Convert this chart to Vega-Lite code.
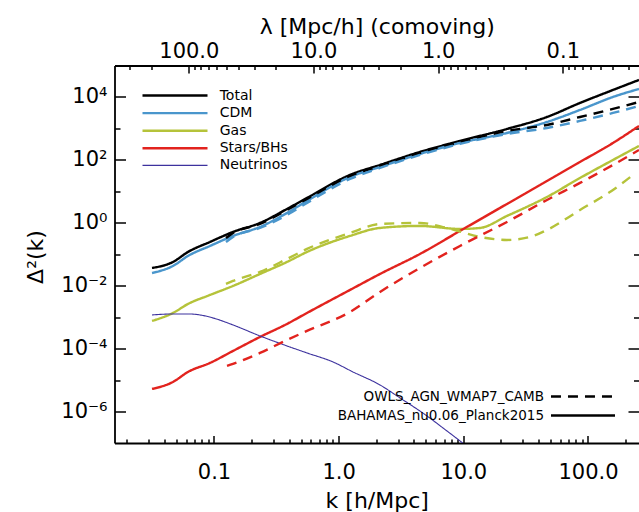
{
"$schema": "https://vega.github.io/schema/vega-lite/v6.json",
"width": 524.5, "height": 377.5,
"autosize": {"type": "none"},
"padding": {"left": 114.5, "top": 65.5, "right": 0, "bottom": 69},
"background": "white",
"config": {"view": {"stroke": null}, "font": "DejaVu Sans"},
"data": {"values": [
{"k":0.03183,"v":0.0367,"c":"Total","m":"BAHAMAS_nu0.06_Planck2015"},
{"k":0.0469,"v":0.0569,"c":"Total","m":"BAHAMAS_nu0.06_Planck2015"},
{"k":0.06184,"v":0.1183,"c":"Total","m":"BAHAMAS_nu0.06_Planck2015"},
{"k":0.09288,"v":0.246,"c":"Total","m":"BAHAMAS_nu0.06_Planck2015"},
{"k":0.1421,"v":0.512,"c":"Total","m":"BAHAMAS_nu0.06_Planck2015"},
{"k":0.2339,"v":0.988,"c":"Total","m":"BAHAMAS_nu0.06_Planck2015"},
{"k":0.385,"v":2.75,"c":"Total","m":"BAHAMAS_nu0.06_Planck2015"},
{"k":0.5572,"v":6.16,"c":"Total","m":"BAHAMAS_nu0.06_Planck2015"},
{"k":1.233,"v":33.2,"c":"Total","m":"BAHAMAS_nu0.06_Planck2015"},
{"k":2.146,"v":68.96,"c":"Total","m":"BAHAMAS_nu0.06_Planck2015"},
{"k":4.49,"v":178.6,"c":"Total","m":"BAHAMAS_nu0.06_Planck2015"},
{"k":9.4,"v":399,"c":"Total","m":"BAHAMAS_nu0.06_Planck2015"},
{"k":22.4,"v":961,"c":"Total","m":"BAHAMAS_nu0.06_Planck2015"},
{"k":46.9,"v":2313,"c":"Total","m":"BAHAMAS_nu0.06_Planck2015"},
{"k":86.3,"v":6448,"c":"Total","m":"BAHAMAS_nu0.06_Planck2015"},
{"k":158.7,"v":16690,"c":"Total","m":"BAHAMAS_nu0.06_Planck2015"},
{"k":256.45,"v":34710,"c":"Total","m":"BAHAMAS_nu0.06_Planck2015"},
{"k":0.03183,"v":0.0254,"c":"CDM","m":"BAHAMAS_nu0.06_Planck2015"},
{"k":0.0469,"v":0.0425,"c":"CDM","m":"BAHAMAS_nu0.06_Planck2015"},
{"k":0.06184,"v":0.0883,"c":"CDM","m":"BAHAMAS_nu0.06_Planck2015"},
{"k":0.09288,"v":0.1836,"c":"CDM","m":"BAHAMAS_nu0.06_Planck2015"},
{"k":0.1421,"v":0.382,"c":"CDM","m":"BAHAMAS_nu0.06_Planck2015"},
{"k":0.2339,"v":0.738,"c":"CDM","m":"BAHAMAS_nu0.06_Planck2015"},
{"k":0.385,"v":2.055,"c":"CDM","m":"BAHAMAS_nu0.06_Planck2015"},
{"k":0.5572,"v":4.95,"c":"CDM","m":"BAHAMAS_nu0.06_Planck2015"},
{"k":1.233,"v":28.6,"c":"CDM","m":"BAHAMAS_nu0.06_Planck2015"},
{"k":2.146,"v":59.6,"c":"CDM","m":"BAHAMAS_nu0.06_Planck2015"},
{"k":4.49,"v":154.3,"c":"CDM","m":"BAHAMAS_nu0.06_Planck2015"},
{"k":9.4,"v":345,"c":"CDM","m":"BAHAMAS_nu0.06_Planck2015"},
{"k":22.4,"v":717,"c":"CDM","m":"BAHAMAS_nu0.06_Planck2015"},
{"k":46.9,"v":1604,"c":"CDM","m":"BAHAMAS_nu0.06_Planck2015"},
{"k":86.3,"v":3862,"c":"CDM","m":"BAHAMAS_nu0.06_Planck2015"},
{"k":158.7,"v":10000,"c":"CDM","m":"BAHAMAS_nu0.06_Planck2015"},
{"k":256.45,"v":17966,"c":"CDM","m":"BAHAMAS_nu0.06_Planck2015"},
{"k":0.03183,"v":0.000758,"c":"Gas","m":"BAHAMAS_nu0.06_Planck2015"},
{"k":0.0469,"v":0.001362,"c":"Gas","m":"BAHAMAS_nu0.06_Planck2015"},
{"k":0.06184,"v":0.00263,"c":"Gas","m":"BAHAMAS_nu0.06_Planck2015"},
{"k":0.09288,"v":0.00508,"c":"Gas","m":"BAHAMAS_nu0.06_Planck2015"},
{"k":0.1421,"v":0.00983,"c":"Gas","m":"BAHAMAS_nu0.06_Planck2015"},
{"k":0.2339,"v":0.0236,"c":"Gas","m":"BAHAMAS_nu0.06_Planck2015"},
{"k":0.385,"v":0.0569,"c":"Gas","m":"BAHAMAS_nu0.06_Planck2015"},
{"k":0.5572,"v":0.1183,"c":"Gas","m":"BAHAMAS_nu0.06_Planck2015"},
{"k":1.233,"v":0.382,"c":"Gas","m":"BAHAMAS_nu0.06_Planck2015"},
{"k":2.146,"v":0.686,"c":"Gas","m":"BAHAMAS_nu0.06_Planck2015"},
{"k":4.49,"v":0.793,"c":"Gas","m":"BAHAMAS_nu0.06_Planck2015"},
{"k":9.4,"v":0.637,"c":"Gas","m":"BAHAMAS_nu0.06_Planck2015"},
{"k":13.6,"v":0.686,"c":"Gas","m":"BAHAMAS_nu0.06_Planck2015"},
{"k":22.4,"v":1.65,"c":"Gas","m":"BAHAMAS_nu0.06_Planck2015"},
{"k":46.9,"v":6.63,"c":"Gas","m":"BAHAMAS_nu0.06_Planck2015"},
{"k":86.3,"v":26.6,"c":"Gas","m":"BAHAMAS_nu0.06_Planck2015"},
{"k":158.7,"v":99.4,"c":"Gas","m":"BAHAMAS_nu0.06_Planck2015"},
{"k":256.45,"v":277,"c":"Gas","m":"BAHAMAS_nu0.06_Planck2015"},
{"k":0.03183,"v":5.23e-6,"c":"Stars/BHs","m":"BAHAMAS_nu0.06_Planck2015"},
{"k":0.0469,"v":8.73e-6,"c":"Stars/BHs","m":"BAHAMAS_nu0.06_Planck2015"},
{"k":0.06184,"v":1.814e-5,"c":"Stars/BHs","m":"BAHAMAS_nu0.06_Planck2015"},
{"k":0.09288,"v":3.51e-5,"c":"Stars/BHs","m":"BAHAMAS_nu0.06_Planck2015"},
{"k":0.1421,"v":8.44e-5,"c":"Stars/BHs","m":"BAHAMAS_nu0.06_Planck2015"},
{"k":0.2339,"v":0.000235,"c":"Stars/BHs","m":"BAHAMAS_nu0.06_Planck2015"},
{"k":0.385,"v":0.000609,"c":"Stars/BHs","m":"BAHAMAS_nu0.06_Planck2015"},
{"k":0.5572,"v":0.00136,"c":"Stars/BHs","m":"BAHAMAS_nu0.06_Planck2015"},
{"k":1.233,"v":0.00733,"c":"Stars/BHs","m":"BAHAMAS_nu0.06_Planck2015"},
{"k":2.146,"v":0.0236,"c":"Stars/BHs","m":"BAHAMAS_nu0.06_Planck2015"},
{"k":4.49,"v":0.1022,"c":"Stars/BHs","m":"BAHAMAS_nu0.06_Planck2015"},
{"k":9.4,"v":0.55,"c":"Stars/BHs","m":"BAHAMAS_nu0.06_Planck2015"},
{"k":22.4,"v":3.97,"c":"Stars/BHs","m":"BAHAMAS_nu0.06_Planck2015"},
{"k":46.9,"v":21.4,"c":"Stars/BHs","m":"BAHAMAS_nu0.06_Planck2015"},
{"k":86.3,"v":85.9,"c":"Stars/BHs","m":"BAHAMAS_nu0.06_Planck2015"},
{"k":158.7,"v":345,"c":"Stars/BHs","m":"BAHAMAS_nu0.06_Planck2015"},
{"k":256.45,"v":1197,"c":"Stars/BHs","m":"BAHAMAS_nu0.06_Planck2015"},
{"k":0.03183,"v":0.001177,"c":"Neutrinos","m":"BAHAMAS_nu0.06_Planck2015"},
{"k":0.0469,"v":0.001266,"c":"Neutrinos","m":"BAHAMAS_nu0.06_Planck2015"},
{"k":0.06184,"v":0.001266,"c":"Neutrinos","m":"BAHAMAS_nu0.06_Planck2015"},
{"k":0.0772,"v":0.001177,"c":"Neutrinos","m":"BAHAMAS_nu0.06_Planck2015"},
{"k":0.09817,"v":0.000944,"c":"Neutrinos","m":"BAHAMAS_nu0.06_Planck2015"},
{"k":0.1421,"v":0.000566,"c":"Neutrinos","m":"BAHAMAS_nu0.06_Planck2015"},
{"k":0.2339,"v":0.000253,"c":"Neutrinos","m":"BAHAMAS_nu0.06_Planck2015"},
{"k":0.385,"v":0.0001217,"c":"Neutrinos","m":"BAHAMAS_nu0.06_Planck2015"},
{"k":0.5572,"v":7.29e-5,"c":"Neutrinos","m":"BAHAMAS_nu0.06_Planck2015"},
{"k":0.9006,"v":3.77e-5,"c":"Neutrinos","m":"BAHAMAS_nu0.06_Planck2015"},
{"k":1.3026,"v":1.814e-5,"c":"Neutrinos","m":"BAHAMAS_nu0.06_Planck2015"},
{"k":2.146,"v":7.01e-6,"c":"Neutrinos","m":"BAHAMAS_nu0.06_Planck2015"},
{"k":3.1046,"v":2.71e-6,"c":"Neutrinos","m":"BAHAMAS_nu0.06_Planck2015"},
{"k":5.111,"v":7.25e-7,"c":"Neutrinos","m":"BAHAMAS_nu0.06_Planck2015"},
{"k":6.8675,"v":3.01e-7,"c":"Neutrinos","m":"BAHAMAS_nu0.06_Planck2015"},
{"k":9.4,"v":1.163e-7,"c":"Neutrinos","m":"BAHAMAS_nu0.06_Planck2015"},
{"k":11.31,"v":6.47e-8,"c":"Neutrinos","m":"BAHAMAS_nu0.06_Planck2015"},
{"k":0.1248,"v":0.33,"c":"Total","m":"OWLS_AGN_WMAP7_CAMB"},
{"k":0.1421,"v":0.475,"c":"Total","m":"OWLS_AGN_WMAP7_CAMB"},
{"k":0.2339,"v":0.919,"c":"Total","m":"OWLS_AGN_WMAP7_CAMB"},
{"k":0.385,"v":2.559,"c":"Total","m":"OWLS_AGN_WMAP7_CAMB"},
{"k":0.5572,"v":5.73,"c":"Total","m":"OWLS_AGN_WMAP7_CAMB"},
{"k":1.233,"v":30.8,"c":"Total","m":"OWLS_AGN_WMAP7_CAMB"},
{"k":2.146,"v":64.1,"c":"Total","m":"OWLS_AGN_WMAP7_CAMB"},
{"k":4.49,"v":166,"c":"Total","m":"OWLS_AGN_WMAP7_CAMB"},
{"k":9.4,"v":371,"c":"Total","m":"OWLS_AGN_WMAP7_CAMB"},
{"k":22.4,"v":830,"c":"Total","m":"OWLS_AGN_WMAP7_CAMB"},
{"k":46.9,"v":1288,"c":"Total","m":"OWLS_AGN_WMAP7_CAMB"},
{"k":86.3,"v":2313,"c":"Total","m":"OWLS_AGN_WMAP7_CAMB"},
{"k":158.7,"v":4155,"c":"Total","m":"OWLS_AGN_WMAP7_CAMB"},
{"k":256.45,"v":6937,"c":"Total","m":"OWLS_AGN_WMAP7_CAMB"},
{"k":0.1248,"v":0.246,"c":"CDM","m":"OWLS_AGN_WMAP7_CAMB"},
{"k":0.1421,"v":0.355,"c":"CDM","m":"OWLS_AGN_WMAP7_CAMB"},
{"k":0.2339,"v":0.686,"c":"CDM","m":"OWLS_AGN_WMAP7_CAMB"},
{"k":0.385,"v":1.775,"c":"CDM","m":"OWLS_AGN_WMAP7_CAMB"},
{"k":0.5572,"v":4.27,"c":"CDM","m":"OWLS_AGN_WMAP7_CAMB"},
{"k":1.233,"v":24.7,"c":"CDM","m":"OWLS_AGN_WMAP7_CAMB"},
{"k":2.146,"v":55.4,"c":"CDM","m":"OWLS_AGN_WMAP7_CAMB"},
{"k":4.49,"v":143.3,"c":"CDM","m":"OWLS_AGN_WMAP7_CAMB"},
{"k":9.4,"v":321,"c":"CDM","m":"OWLS_AGN_WMAP7_CAMB"},
{"k":22.4,"v":667,"c":"CDM","m":"OWLS_AGN_WMAP7_CAMB"},
{"k":46.9,"v":1034,"c":"CDM","m":"OWLS_AGN_WMAP7_CAMB"},
{"k":86.3,"v":1727,"c":"CDM","m":"OWLS_AGN_WMAP7_CAMB"},
{"k":158.7,"v":3100,"c":"CDM","m":"OWLS_AGN_WMAP7_CAMB"},
{"k":256.45,"v":5174,"c":"CDM","m":"OWLS_AGN_WMAP7_CAMB"},
{"k":0.1248,"v":0.01137,"c":"Gas","m":"OWLS_AGN_WMAP7_CAMB"},
{"k":0.1421,"v":0.01417,"c":"Gas","m":"OWLS_AGN_WMAP7_CAMB"},
{"k":0.2339,"v":0.0274,"c":"Gas","m":"OWLS_AGN_WMAP7_CAMB"},
{"k":0.385,"v":0.0709,"c":"Gas","m":"OWLS_AGN_WMAP7_CAMB"},
{"k":0.5572,"v":0.1474,"c":"Gas","m":"OWLS_AGN_WMAP7_CAMB"},
{"k":1.233,"v":0.475,"c":"Gas","m":"OWLS_AGN_WMAP7_CAMB"},
{"k":2.146,"v":0.919,"c":"Gas","m":"OWLS_AGN_WMAP7_CAMB"},
{"k":4.49,"v":0.988,"c":"Gas","m":"OWLS_AGN_WMAP7_CAMB"},
{"k":7.394,"v":0.686,"c":"Gas","m":"OWLS_AGN_WMAP7_CAMB"},
{"k":13.6,"v":0.355,"c":"Gas","m":"OWLS_AGN_WMAP7_CAMB"},
{"k":22.4,"v":0.285,"c":"Gas","m":"OWLS_AGN_WMAP7_CAMB"},
{"k":34.25,"v":0.355,"c":"Gas","m":"OWLS_AGN_WMAP7_CAMB"},
{"k":46.9,"v":0.592,"c":"Gas","m":"OWLS_AGN_WMAP7_CAMB"},
{"k":86.3,"v":2.559,"c":"Gas","m":"OWLS_AGN_WMAP7_CAMB"},
{"k":158.7,"v":11.06,"c":"Gas","m":"OWLS_AGN_WMAP7_CAMB"},
{"k":229.6,"v":33.2,"c":"Gas","m":"OWLS_AGN_WMAP7_CAMB"},
{"k":0.1272,"v":2.81e-5,"c":"Stars/BHs","m":"OWLS_AGN_WMAP7_CAMB"},
{"k":0.1421,"v":3.26e-5,"c":"Stars/BHs","m":"OWLS_AGN_WMAP7_CAMB"},
{"k":0.2339,"v":7.29e-5,"c":"Stars/BHs","m":"OWLS_AGN_WMAP7_CAMB"},
{"k":0.385,"v":0.000189,"c":"Stars/BHs","m":"OWLS_AGN_WMAP7_CAMB"},
{"k":0.5572,"v":0.000365,"c":"Stars/BHs","m":"OWLS_AGN_WMAP7_CAMB"},
{"k":1.233,"v":0.001465,"c":"Stars/BHs","m":"OWLS_AGN_WMAP7_CAMB"},
{"k":2.146,"v":0.00633,"c":"Stars/BHs","m":"OWLS_AGN_WMAP7_CAMB"},
{"k":4.49,"v":0.0367,"c":"Stars/BHs","m":"OWLS_AGN_WMAP7_CAMB"},
{"k":9.4,"v":0.1836,"c":"Stars/BHs","m":"OWLS_AGN_WMAP7_CAMB"},
{"k":22.4,"v":1.063,"c":"Stars/BHs","m":"OWLS_AGN_WMAP7_CAMB"},
{"k":46.9,"v":5.32,"c":"Stars/BHs","m":"OWLS_AGN_WMAP7_CAMB"},
{"k":86.3,"v":18.5,"c":"Stars/BHs","m":"OWLS_AGN_WMAP7_CAMB"},
{"k":158.7,"v":68.96,"c":"Stars/BHs","m":"OWLS_AGN_WMAP7_CAMB"},
{"k":256.45,"v":207,"c":"Stars/BHs","m":"OWLS_AGN_WMAP7_CAMB"}
]},
"layer": [
{
"mark": {"type": "line", "clip": true, "strokeCap": "butt", "strokeJoin": "round", "interpolate": "monotone"},
"encoding": {
"x": {"field": "k", "type": "quantitative",
 "scale": {"type": "log", "domain": [0.01592, 256.6], "nice": false, "zero": false},
 "axis": {"orient": "bottom",
  "values": [0.02,0.03,0.04,0.05,0.06,0.07,0.08,0.09,0.1,0.2,0.3,0.4,0.5,0.6,0.7,0.8,0.9,1,2,3,4,5,6,7,8,9,10,20,30,40,50,60,70,80,90,100,200],
  "labelExpr": "abs(log(datum.value)/LN10 - round(log(datum.value)/LN10)) < 0.01 ? format(datum.value, '.1f') : ''",
  "tickSize": {"condition": {"test": "abs(log(datum.value)/LN10 - round(log(datum.value)/LN10)) < 0.01", "value": -7.5}, "value": -4},
  "tickWidth": 1.5, "tickColor": "black", "domainColor": "black", "domainWidth": 1.8,
  "grid": false, "labelFontSize": 21, "labelColor": "black", "labelPadding": 25.5,
  "labelFlush": false, "labelOverlap": false, "labelBound": false,
  "title": "k  [h/Mpc]", "titleFontSize": 22, "titleFontWeight": "normal", "titleColor": "black",
  "titleBaseline": "alphabetic", "titleY": 64}},
"y": {"field": "v", "type": "quantitative",
 "scale": {"type": "log", "domain": [1e-7, 1e5], "nice": false, "zero": false},
 "axis": {"orient": "left",
  "values": [1e-6,1e-5,1e-4,1e-3,1e-2,1e-1,1,10,100,1000,10000],
  "labelExpr": "round(log(datum.value)/LN10)==4 ? '10⁴' : round(log(datum.value)/LN10)==2 ? '10²' : round(log(datum.value)/LN10)==0 ? '10⁰' : round(log(datum.value)/LN10)==-2 ? '10⁻²' : round(log(datum.value)/LN10)==-4 ? '10⁻⁴' : round(log(datum.value)/LN10)==-6 ? '10⁻⁶' : ''",
  "tickSize": {"condition": {"test": "round(log(datum.value)/LN10) % 2 == 0", "value": -11}, "value": -5.5},
  "tickWidth": 1.5, "tickColor": "black", "domainColor": "black", "domainWidth": 1.8,
  "grid": false, "labelFontSize": 21, "labelColor": "black", "labelPadding": 18.5,
  "labelOverlap": false, "labelBound": false,
  "title": "Δ²(k)", "titleFontSize": 22, "titleFontWeight": "normal", "titleColor": "black",
  "titleBaseline": "alphabetic", "titleX": -72.5, "titleY": 191, "titleAngle": -90}},
"color": {"field": "c", "type": "nominal",
 "scale": {"domain": ["Total","CDM","Gas","Stars/BHs","Neutrinos"], "range": ["#000000","#4a96cc","#b5c33a","#e2231e","#3d329e"]},
 "legend": {"orient": "none", "legendX": 52.5, "legendY": 22, "title": null, "padding": 0,
  "symbolType": "M-5,0H5", "symbolSize": 169, "labelFontSize": 14, "labelOffset": 36.7, "labelColor": "black",
  "rowPadding": 2.6}},
"strokeWidth": {"field": "c", "type": "nominal",
 "scale": {"type": "ordinal", "domain": ["Total","CDM","Gas","Stars/BHs","Neutrinos"], "range": [2.4,2.4,2.4,2.4,1.1]}},
"strokeDash": {"field": "m", "type": "nominal",
 "scale": {"domain": ["OWLS_AGN_WMAP7_CAMB","BAHAMAS_nu0.06_Planck2015"], "range": [[10,7],[1,0]]},
 "legend": {"orient": "none", "legendX": 460.5, "legendY": 323, "title": null, "padding": 0,
  "symbolType": "M-5,0H5", "symbolSize": 164, "labelFontSize": 13.5, "labelOffset": -47, "labelAlign": "right", "labelLimit": 400,
  "labelColor": "black", "symbolStrokeColor": "black", "symbolStrokeWidth": 2.4, "rowPadding": 4}},
"order": {"field": "k", "type": "quantitative"}
}
},
{
"mark": {"type": "point", "opacity": 0},
"encoding": {
"x": {"field": "k", "type": "quantitative",
 "scale": {"type": "log", "domain": [0.01592, 256.6], "nice": false, "zero": false},
 "axis": {"orient": "top",
  "values": [0.020944,0.031416,0.062832,0.069813,0.07854,0.08976,0.10472,0.125664,0.15708,0.20944,0.31416,0.62832,0.69813,0.7854,0.8976,1.0472,1.25664,1.5708,2.0944,3.1416,6.28319,6.98132,7.85398,8.97598,10.472,12.5664,15.708,20.944,31.416,62.832,69.813,78.54,89.76,104.72,125.66,157.08,209.44],
  "labelExpr": "abs(log(2*PI/datum.value)/LN10 - round(log(2*PI/datum.value)/LN10)) < 0.01 ? format(2*PI/datum.value, '.1f') : ''",
  "tickSize": {"condition": {"test": "abs(log(2*PI/datum.value)/LN10 - round(log(2*PI/datum.value)/LN10)) < 0.01", "value": -7.5}, "value": -4},
  "tickWidth": 1.5, "tickColor": "black", "domainColor": "black", "domainWidth": 1.8,
  "grid": false, "labelFontSize": 21, "labelColor": "black", "labelPadding": 11.6,
  "labelFlush": false, "labelOverlap": false, "labelBound": false,
  "title": "λ  [Mpc/h]  (comoving)", "titleFontSize": 22, "titleFontWeight": "normal", "titleColor": "black",
  "titleBaseline": "alphabetic", "titleY": -32.5}},
"y": {"field": "v", "type": "quantitative",
 "scale": {"type": "log", "domain": [1e-7, 1e5], "nice": false, "zero": false},
 "axis": {"orient": "right",
  "values": [1e-6,1e-5,1e-4,1e-3,1e-2,1e-1,1,10,100,1000,10000],
  "labels": false, "domain": false, "title": null, "grid": false,
  "tickSize": {"condition": {"test": "round(log(datum.value)/LN10) % 2 == 0", "value": -11}, "value": -5.5},
  "tickWidth": 1.5, "tickColor": "black"}}
}
}
],
"resolve": {"axis": {"x": "independent", "y": "independent"}}
}
